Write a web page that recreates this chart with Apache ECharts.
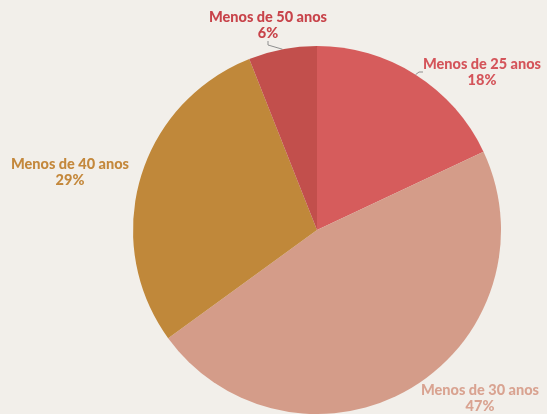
<!DOCTYPE html>
<html><head><meta charset="utf-8">
<script src="https://cdn.jsdelivr.net/npm/echarts@6/dist/echarts.min.js"></script>
<style>html,body{margin:0;padding:0;background:#f2efea}#c{width:547px;height:414px}</style>
</head><body><div id="c"></div>
<script>
const categories = ["Menos de 25 anos", "Menos de 30 anos", "Menos de 40 anos", "Menos de 50 anos"];
const values = [18, 47, 29, 6];
const colors = ["#d65c5c", "#d49c89", "#c0883a", "#c24f4c"];
const labelColors = ["#d4545a", "#d9a391", "#c4883c", "#c8434a"];
const showLine = [true, false, false, true];
const labelPos = [[482, 72], [480, 398], [70, 172], [268, 25]];

const chart = echarts.init(document.getElementById('c'));
chart.setOption({
  backgroundColor: '#f2efea',
  animation: false,
  series: [{
    type: 'pie',
    center: [317, 230],
    radius: [0, 184],
    startAngle: 90,
    clockwise: true,
    data: categories.map((n, i) => ({
      name: n, value: values[i],
      itemStyle: { color: colors[i] },
      label: { color: labelColors[i] },
      labelLine: { show: showLine[i] }
    })),
    label: {
      show: true,
      formatter: p => p.name + '\n' + p.value + '%',
      fontFamily: 'Lato',
      fontWeight: 900,
      fontSize: 14.5,
      lineHeight: 16,
      align: 'center',
      overflow: 'none'
    },
    labelLine: { show: true, length: 8, length2: 4, lineStyle: { color: '#8f8f8f', width: 1 } },
    labelLayout: function (p) {
      const lp = labelPos[p.dataIndex];
      return { x: lp[0], y: lp[1], align: 'center', verticalAlign: 'middle' };
    }
  }]
});
</script></body></html>
